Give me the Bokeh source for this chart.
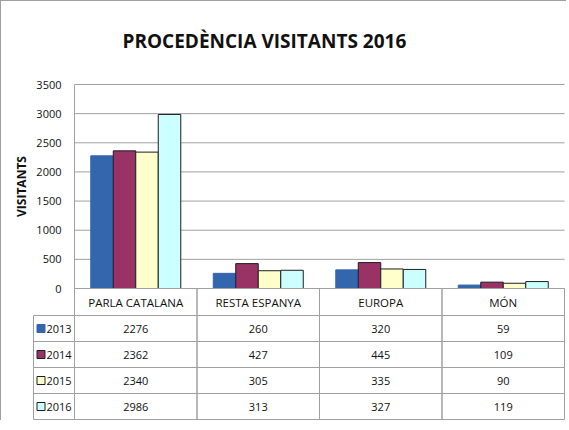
from bokeh.plotting import figure
from bokeh.layouts import column
from bokeh.models import Range1d, ColumnDataSource, Title
from bokeh.transform import dodge
from bokeh.core.properties import value
from bokeh.embed import file_html
from bokeh.resources import INLINE
import math

categories = ["PARLA CATALANA", "RESTA ESPANYA", "EUROPA", "MÓN"]
years = ["2013", "2014", "2015", "2016"]
v2013 = [2276, 260, 320, 59]
v2014 = [2362, 427, 445, 109]
v2015 = [2340, 305, 335, 90]
v2016 = [2986, 313, 327, 119]
y_ticks = [0, 500, 1000, 1500, 2000, 2500, 3000, 3500]

series = [v2013, v2014, v2015, v2016]
fills = ["#3466ae", "#993366", "#ffffcc", "#ccffff"]
edges = ["#3466ae", "#1e1e1e", "#1e1e1e", "#1e1e1e"]

FONT = "Open Sans"
GRID = "#a0a0a0"
TXT = "#111111"

s = 122.5                     # px per category column
u = 3500 / 204.0              # data units per px (vertical)
n = len(categories)
nr = len(years)
centers = [i + 0.5 for i in range(n)]
lw = 41 / s                   # legend column width
lm = 60 / s                   # left margin inside frame (axis-title zone)
hh = 27 * u                   # header row height
rh = 26 * u                   # table row height

p = figure(width=565, height=419, output_backend="svg", toolbar_location=None,
           x_range=Range1d(-lm, n + 2 / s),
           y_range=Range1d(-(hh + nr * rh + 1 * u), 3500 + 10 * u),
           x_axis_type=None, y_axis_type=None,
           min_border_left=13, min_border_right=0,
           min_border_top=73, min_border_bottom=0)
p.add_layout(Title(text="PROCEDÈNCIA VISITANTS 2016", text_font=FONT,
                   text_font_size="19px", text_font_style="bold",
                   text_color=TXT, align="left", offset=108, standoff=42), "above")
p.outline_line_color = None
p.xgrid.visible = False
p.ygrid.visible = False

# gridlines, value-axis line, tick labels and axis title
p.segment(x0=0, x1=n, y0=y_ticks, y1=y_ticks, line_color=GRID, line_width=1)
p.segment(x0=[0], x1=[0], y0=[y_ticks[0]], y1=[y_ticks[-1]], line_color=GRID)
p.text(x=[-13 / s] * len(y_ticks), y=y_ticks, text=[str(t) for t in y_ticks],
       text_font=value(FONT), text_font_size="11px", text_align="right",
       text_baseline="middle", text_color=TXT)
p.text(x=[-lm + 7 / s], y=[(y_ticks[0] + y_ticks[-1]) / 2], text=["VISITANTS"],
       angle=math.pi / 2, text_font=value(FONT), text_font_size="12px",
       text_font_style="bold", text_align="center", text_baseline="middle",
       text_color=TXT)

# bars
src = ColumnDataSource(dict(x=centers, y13=v2013, y14=v2014, y15=v2015, y16=v2016))
bw = 22.5 / s
offs = [-1.5 * bw, -0.5 * bw, 0.5 * bw, 1.5 * bw]
for key, off, fc, lc in zip(["y13", "y14", "y15", "y16"], offs, fills, edges):
    p.vbar(x=dodge("x", off), top=key, width=bw, bottom=0, source=src,
           fill_color=fc, line_color=lc, line_width=1)

# data table: header row
p.quad(left=list(range(n)), right=[i + 1 for i in range(n)],
       bottom=-hh, top=0, fill_color=None, line_color=GRID)
p.text(x=centers, y=[-hh / 2] * n, text=categories, text_font=value(FONT),
       text_font_size="11.5px", text_align="center", text_baseline="middle",
       text_color=TXT)

# data table: body
rtop = [-hh - r * rh for r in range(nr)]
rmid = [t - rh / 2 for t in rtop]
cl, cr, cb, ct = [], [], [], []
for r in range(nr):
    for i in range(-1, n):
        cl.append(-lw if i < 0 else i)
        cr.append(0 if i < 0 else i + 1)
        ct.append(rtop[r]); cb.append(rtop[r] - rh)
p.quad(left=cl, right=cr, bottom=cb, top=ct, fill_color=None, line_color=GRID)

tx, ty, tt = [], [], []
for vals, ym in zip(series, rmid):
    for i, v in enumerate(vals):
        tx.append(centers[i]); ty.append(ym); tt.append(str(v))
p.text(x=tx, y=ty, text=tt, text_font=value(FONT), text_font_size="11px",
       text_align="center", text_baseline="middle", text_color=TXT)

p.scatter(x=[-lw + 7.5 / s] * nr, y=rmid, marker="square", size=8,
          fill_color=fills, line_color=edges)
p.text(x=[-lw + 13 / s] * nr, y=rmid, text=years, text_font=value(FONT),
       text_font_size="11px", text_align="left", text_baseline="middle",
       text_color=TXT)

layout = column(p, styles={"border-left": "1px solid #a0a0a0",
                           "border-top": "1px solid #a0a0a0"})

open("out.html", "w").write(file_html(layout, INLINE))
